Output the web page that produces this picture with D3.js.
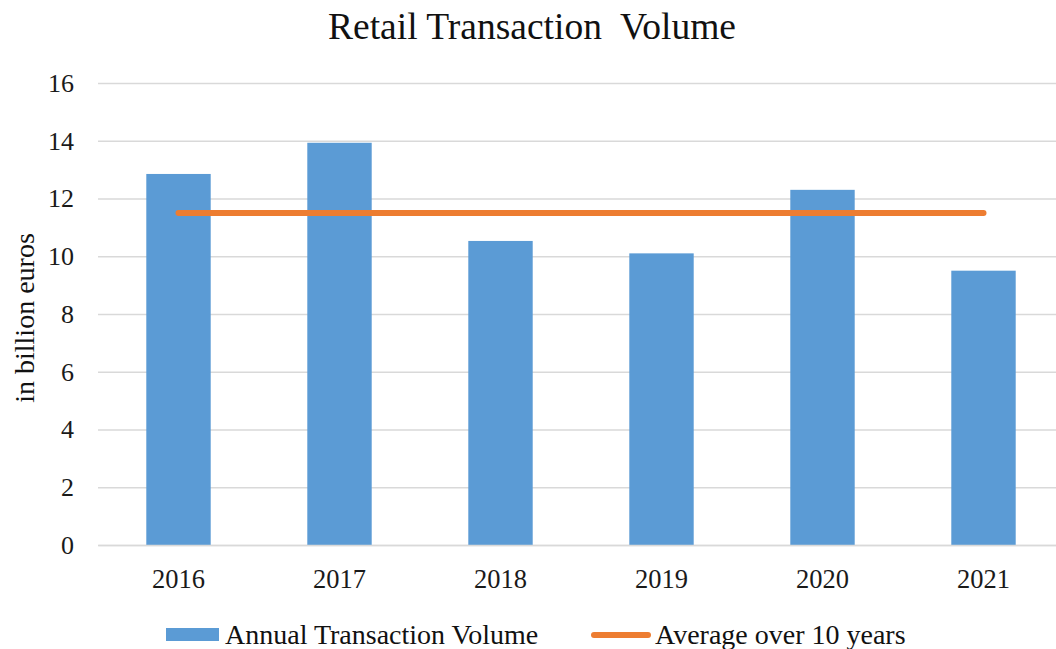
<!DOCTYPE html>
<html>
<head>
<meta charset="utf-8">
<script src="https://cdn.jsdelivr.net/npm/d3@7"></script>
<style>
  body { margin: 0; background: #fff; }
  svg { display: block; font-family: "Liberation Serif", "Times New Roman", serif; }
</style>
</head>
<body>
<svg id="chart" width="1056" height="649"></svg>
<script>
const years = ["2016", "2017", "2018", "2019", "2020", "2021"];
const annualVolume = [12.85, 13.93, 10.53, 10.1, 12.3, 9.5];
const tenYearAverage = [11.5, 11.5, 11.5, 11.5, 11.5, 11.5];
const yTicks = [0, 2, 4, 6, 8, 10, 12, 14, 16];
const seriesNames = ["Annual Transaction Volume", "Average over 10 years"];

const svg = d3.select("#chart");
const plotLeft = 98, plotRight = 1064, plotTop = 83, plotBottom = 545;
const serif = "Liberation Serif";

const x = d3.scaleBand().domain(years).range([plotLeft, plotRight]).paddingInner(0.6).paddingOuter(0.3);
const y = d3.scaleLinear().domain([0, 16]).range([plotBottom, plotTop]);

// gridlines + y tick labels
const yAxis = d3.axisLeft(y).tickValues(yTicks).tickSize(-(plotRight - plotLeft)).tickPadding(24);
const gy = svg.append("g").attr("transform", `translate(${plotLeft},0)`).call(yAxis);
gy.attr("font-family", serif);
gy.select(".domain").remove();
gy.selectAll(".tick line").attr("stroke", "#d9d9d9").attr("stroke-width", 1.5);
gy.selectAll(".tick text").attr("font-size", 26).attr("fill", "#1a1a1a").attr("font-family", serif);

// bars
svg.append("g").selectAll("rect").data(years).join("rect")
  .attr("x", d => x(d))
  .attr("width", x.bandwidth())
  .attr("y", (d, i) => y(annualVolume[i]))
  .attr("height", (d, i) => y(0) - y(annualVolume[i]))
  .attr("fill", "#5b9bd5");

// x axis
const xAxis = d3.axisBottom(x).tickSize(0).tickPadding(24);
const gx = svg.append("g").attr("transform", `translate(0,${plotBottom})`).call(xAxis);
gx.attr("font-family", serif);
gx.select(".domain").attr("stroke", "#d9d9d9").attr("stroke-width", 1.5);
gx.selectAll(".tick text").attr("font-size", 26.5).attr("fill", "#1a1a1a").attr("font-family", serif);

// average line
const line = d3.line().x((d, i) => x(years[i]) + x.bandwidth() / 2).y(d => y(d));
svg.append("path").datum(tenYearAverage)
  .attr("d", line)
  .attr("fill", "none")
  .attr("stroke", "#ed7d31")
  .attr("stroke-width", 6)
  .attr("stroke-linecap", "round");

// title
svg.append("text").attr("x", 532).attr("y", 39).attr("text-anchor", "middle")
  .attr("font-family", serif)
  .attr("font-size", 37.5).attr("fill", "#111").style("white-space", "pre")
  .text("Retail Transaction  Volume");

// y label
svg.append("text").attr("transform", "translate(34,318) rotate(-90)")
  .attr("font-family", serif)
  .attr("text-anchor", "middle").attr("font-size", 28).attr("fill", "#111")
  .text("in billion euros");

// legend
const lg = svg.append("g").attr("font-family", serif);
lg.append("rect").attr("x", 166).attr("y", 628).attr("width", 53).attr("height", 13).attr("fill", "#5b9bd5");
lg.append("text").attr("x", 225).attr("y", 644).attr("font-family", serif).attr("font-size", 28).attr("fill", "#111").text(seriesNames[0]);
lg.append("line").attr("x1", 594).attr("x2", 648).attr("y1", 635).attr("y2", 635)
  .attr("stroke", "#ed7d31").attr("stroke-width", 6).attr("stroke-linecap", "round");
lg.append("text").attr("x", 655).attr("y", 644).attr("font-family", serif).attr("font-size", 28).attr("fill", "#111").text(seriesNames[1]);
</script>
</body>
</html>
